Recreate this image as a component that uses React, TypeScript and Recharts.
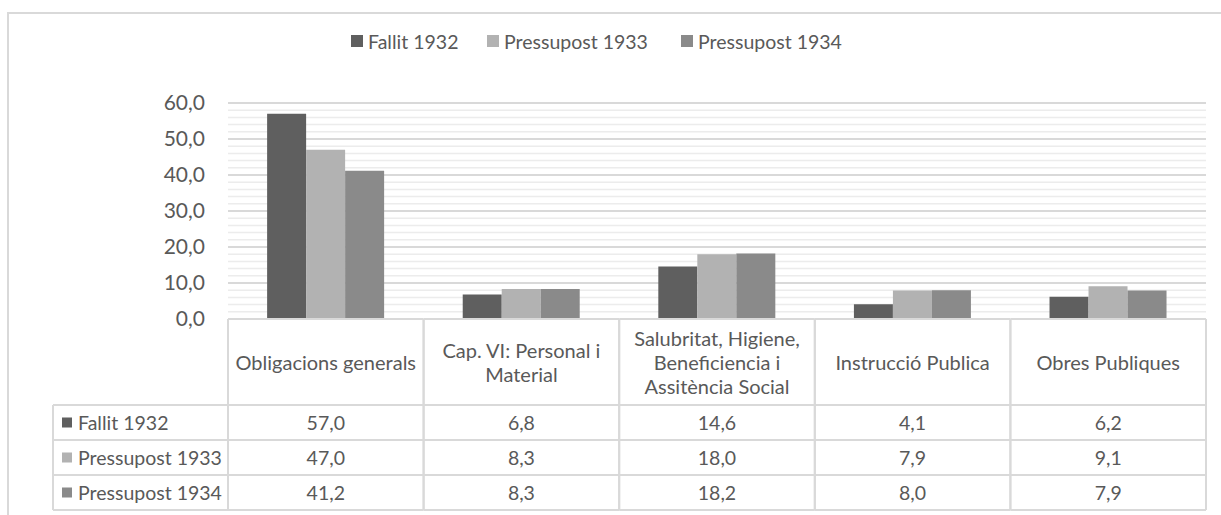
import React from 'react';
import { BarChart, Bar, XAxis, YAxis, CartesianGrid } from 'recharts';

// categories and wrapped tick labels (as shown in the data table header)
const categories = [
  'Obligacions generals',
  'Cap. VI: Personal i Material',
  'Salubritat, Higiene, Beneficiencia i Assitència Social',
  'Instrucció Publica',
  'Obres Publiques',
];
const categoryLines = [
  ['Obligacions generals'],
  ['Cap. VI: Personal i', 'Material'],
  ['Salubritat, Higiene,', 'Beneficiencia i', 'Assitència Social'],
  ['Instrucció Publica'],
  ['Obres Publiques'],
];

const fallit1932 = [57.0, 6.8, 14.6, 4.1, 6.2];
const pressupost1933 = [47.0, 8.3, 18.0, 7.9, 9.1];
const pressupost1934 = [41.2, 8.3, 18.2, 8.0, 7.9];

const seriesNames = ['Fallit 1932', 'Pressupost 1933', 'Pressupost 1934'];
const seriesKeys = ['fallit1932', 'pressupost1933', 'pressupost1934'];
const seriesColors = ['#5f5f5f', '#b2b2b2', '#8a8a8a'];
const seriesValues = [fallit1932, pressupost1933, pressupost1934];

const yTicks = [0, 10, 20, 30, 40, 50, 60];
const majorGrid = [10, 20, 30, 40, 50, 60];
const minorGrid = [2, 4, 6, 8, 12, 14, 16, 18, 22, 24, 26, 28, 32, 34, 36, 38, 42, 44, 46, 48, 52, 54, 56, 58];

const data = categories.map((category, i) => ({
  category,
  fallit1932: fallit1932[i],
  pressupost1933: pressupost1933[i],
  pressupost1934: pressupost1934[i],
}));

const TEXT = '#595959';
const LINE = '#d9d9d9';
const fmt = (v: number) => v.toFixed(1).replace('.', ',');

const HEADER_H = 86;
const ROW_H = 35;
const LABEL_COL_W = 175;

// y positions of grid values, through the y axis scale
const gridGen = (values: number[]) => (p: any) => {
  const scale = p?.yAxis?.scale;
  if (typeof scale === 'function') return values.map((v) => scale(v));
  const o = p.offset;
  return values.map((v) => o.top + o.height * (1 - v / 60));
};

// draws one column of the data table under each category
const TableTick = (props: any) => {
  const { x, y, index, width } = props;
  const band = (typeof width === 'number' && width > 0 ? width : 978) / categories.length;
  const left = x - band / 2;
  const right = x + band / 2;
  const lines = categoryLines[index] || [];
  const headerMid = y + HEADER_H / 2;
  const rowTop = y + HEADER_H;
  const bottom = rowTop + ROW_H * 3;
  const lineH = 24;

  return (
    <g>
      <line x1={left} x2={right} y1={y} y2={y} stroke={LINE} strokeWidth={2} />
      {[0, 1, 2, 3].map((r) => (
        <line
          key={r}
          x1={index === 0 ? left - LABEL_COL_W : left}
          x2={right}
          y1={rowTop + r * ROW_H}
          y2={rowTop + r * ROW_H}
          stroke={LINE}
          strokeWidth={2}
        />
      ))}
      <line x1={left} x2={left} y1={y} y2={bottom} stroke={LINE} strokeWidth={2} />
      <line x1={right} x2={right} y1={y} y2={bottom} stroke={LINE} strokeWidth={2} />
      {lines.map((t, i) => (
        <text
          key={i}
          x={x}
          y={headerMid + (i - (lines.length - 1) / 2) * lineH}
          textAnchor="middle"
          dominantBaseline="central"
          fill={TEXT}
          fontSize={20}
        >
          {t}
        </text>
      ))}
      {seriesValues.map((vals, r) => (
        <text
          key={r}
          x={x}
          y={rowTop + r * ROW_H + ROW_H / 2}
          textAnchor="middle"
          dominantBaseline="central"
          fill={TEXT}
          fontSize={19.5}
        >
          {fmt(vals[index])}
        </text>
      ))}
      {index === 0 && (
        <g>
          <line
            x1={left - LABEL_COL_W}
            x2={left - LABEL_COL_W}
            y1={rowTop}
            y2={bottom}
            stroke={LINE}
            strokeWidth={2}
          />
          {seriesNames.map((name, r) => (
            <g key={name}>
              <rect
                x={left - LABEL_COL_W + 9}
                y={rowTop + r * ROW_H + ROW_H / 2 - 5}
                width={10}
                height={10}
                fill={seriesColors[r]}
              />
              <text
                x={left - LABEL_COL_W + 25}
                y={rowTop + r * ROW_H + ROW_H / 2}
                dominantBaseline="central"
                fill={TEXT}
                fontSize={19.5}
              >
                {name}
              </text>
            </g>
          ))}
        </g>
      )}
    </g>
  );
};

const legendLeft = [351, 487, 681];

const App: React.FC = () => {
  return (
    <div
      style={{
        position: 'absolute',
        left: 0,
        top: 0,
        width: 1221,
        height: 515,
        overflow: 'hidden',
        background: '#fff',
        fontFamily: 'Lato, sans-serif',
      }}
    >
      {/* outer chart frame */}
      <div
        style={{
          position: 'absolute',
          left: 7,
          top: 12,
          width: 1400,
          height: 700,
          border: `2px solid ${LINE}`,
          boxSizing: 'border-box',
        }}
      />
      {/* legend */}
      {seriesNames.map((name, i) => (
        <div
          key={name}
          style={{
            position: 'absolute',
            left: legendLeft[i],
            top: 29,
            height: 24,
            display: 'flex',
            alignItems: 'center',
            color: TEXT,
            fontSize: 19.5,
          }}
        >
          <span style={{ display: 'inline-block', width: 12, height: 12, background: seriesColors[i], marginRight: 5 }} />
          {name}
        </div>
      ))}
      <div style={{ position: 'absolute', left: 0, top: 0 }}>
        <BarChart
          width={1221}
          height={515}
          data={data}
          margin={{ top: 103, right: 15, left: 0, bottom: 0 }}
          barCategoryGap="20%"
          barGap={0}
        >
          <CartesianGrid vertical={false} horizontalCoordinatesGenerator={gridGen(minorGrid)} stroke="#ececec" strokeWidth={1.5} />
          <CartesianGrid vertical={false} horizontalCoordinatesGenerator={gridGen(majorGrid)} stroke={LINE} strokeWidth={2} />
          <YAxis
            domain={[0, 60]}
            ticks={yTicks}
            tickFormatter={fmt}
            axisLine={false}
            tickLine={false}
            tickSize={0}
            tickMargin={23}
            width={228}
            tick={{ fill: TEXT, fontSize: 21 }}
          />
          <XAxis
            dataKey="category"
            interval={0}
            axisLine={false}
            tickLine={false}
            tickSize={0}
            tickMargin={0}
            height={196}
            tick={<TableTick />}
          />
          {seriesKeys.map((k, i) => (
            <Bar key={k} dataKey={k} name={seriesNames[i]} fill={seriesColors[i]} isAnimationActive={false} />
          ))}
        </BarChart>
      </div>
    </div>
  );
};

export default App;
